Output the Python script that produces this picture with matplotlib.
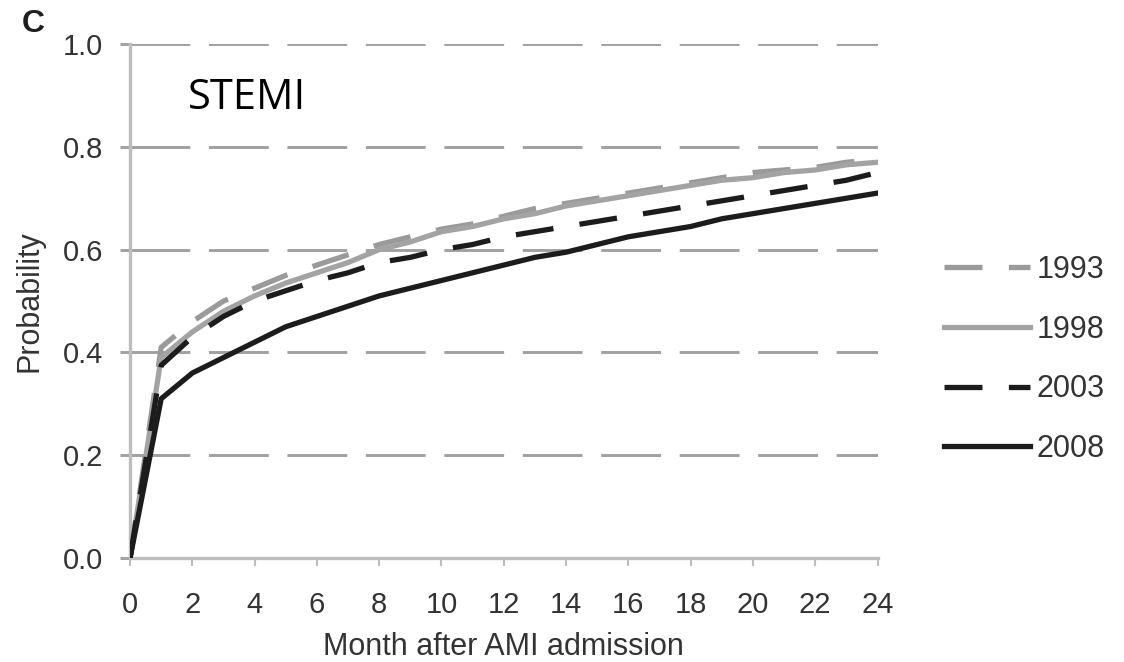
import matplotlib
matplotlib.use("Agg")
import matplotlib.pyplot as plt

# months after admission
months = list(range(0, 25))

# cumulative probability per cohort year
p1993 = [0.0, 0.41, 0.46, 0.50, 0.525, 0.55, 0.57, 0.59, 0.61, 0.625, 0.64, 0.65, 0.665,
         0.68, 0.69, 0.70, 0.71, 0.72, 0.73, 0.74, 0.75, 0.755, 0.76, 0.77, 0.775]
p1998 = [0.0, 0.39, 0.44, 0.48, 0.51, 0.535, 0.555, 0.575, 0.60, 0.615, 0.635, 0.645, 0.66,
         0.67, 0.685, 0.695, 0.705, 0.715, 0.725, 0.735, 0.74, 0.75, 0.755, 0.765, 0.77]
p2003 = [0.0, 0.375, 0.43, 0.47, 0.50, 0.52, 0.54, 0.555, 0.575, 0.585, 0.60, 0.61, 0.625,
         0.635, 0.645, 0.655, 0.665, 0.675, 0.685, 0.695, 0.705, 0.715, 0.725, 0.735, 0.75]
p2008 = [0.0, 0.31, 0.36, 0.39, 0.42, 0.45, 0.47, 0.49, 0.51, 0.525, 0.54, 0.555, 0.57,
         0.585, 0.595, 0.61, 0.625, 0.635, 0.645, 0.66, 0.67, 0.68, 0.69, 0.70, 0.71]

years = ["1993", "1998", "2003", "2008"]
yticks = [0.0, 0.2, 0.4, 0.6, 0.8, 1.0]
xticks = list(range(0, 25, 2))

plt.rcParams['font.family'] = ['Liberation Sans', 'DejaVu Sans']

fig = plt.figure(figsize=(11.24, 6.62), dpi=100)
ax = fig.add_axes([0.1157, 0.157, 0.665, 0.7765])

gray = '#9a9a9a'
dark = '#1c1c1c'
lw = 3.8
dash = (0, (7.2, 5.0))

ax.plot(months, p1993, color=gray, lw=lw, linestyle=dash, label=years[0], zorder=3)
ax.plot(months, p1998, color='#a3a3a3', lw=lw, label=years[1], zorder=3)
ax.plot(months, p2003, color=dark, lw=lw, linestyle=dash, label=years[2], zorder=4)
ax.plot(months, p2008, color=dark, lw=lw, label=years[3], zorder=4)

ax.set_xlim(0, 24)
ax.set_ylim(0, 1.0)
ax.set_xticks(xticks)
ax.set_yticks(yticks)
ax.set_yticklabels(["%.1f" % v for v in yticks])

# dashed horizontal grid
for v in yticks[1:]:
    ax.axhline(v, color='#a0a0a0', lw=2.1, linestyle=(0, (20.5, 6.4)), zorder=1)

for s in ['top', 'right']:
    ax.spines[s].set_visible(False)
for s in ['left', 'bottom']:
    ax.spines[s].set_color('#bdbdbd')
    ax.spines[s].set_linewidth(2.4)

ax.tick_params(axis='y', length=7.2, width=2.1, color='#a0a0a0', labelsize=21,
               labelcolor='#333333', pad=12)
ax.tick_params(axis='x', length=6, width=1.5, color='#bdbdbd', labelsize=21,
               labelcolor='#333333', pad=18)

ax.set_xlabel("Month after AMI admission", fontsize=22, color='#333333', labelpad=9)
ax.set_ylabel("Probability", fontsize=22, color='#333333', labelpad=13)

ax.text(0.0775, 0.8735, "STEMI", transform=ax.transAxes, fontsize=30,
        family=['Open Sans', 'DejaVu Sans'], color='black', va='baseline')
fig.text(0.019, 0.964, "C", fontsize=23, color='#1e1e1e', fontweight='semibold',
         va='center', family=['Liberation Sans', 'DejaVu Sans'])

leg = ax.legend(loc='center left', bbox_to_anchor=(1.0896, 0.386), frameon=False,
                fontsize=22, handlelength=2.8, handletextpad=0.2, labelspacing=0.97,
                borderpad=0, borderaxespad=0, labelcolor='#333333')

fig.savefig("out.png", dpi=100)
